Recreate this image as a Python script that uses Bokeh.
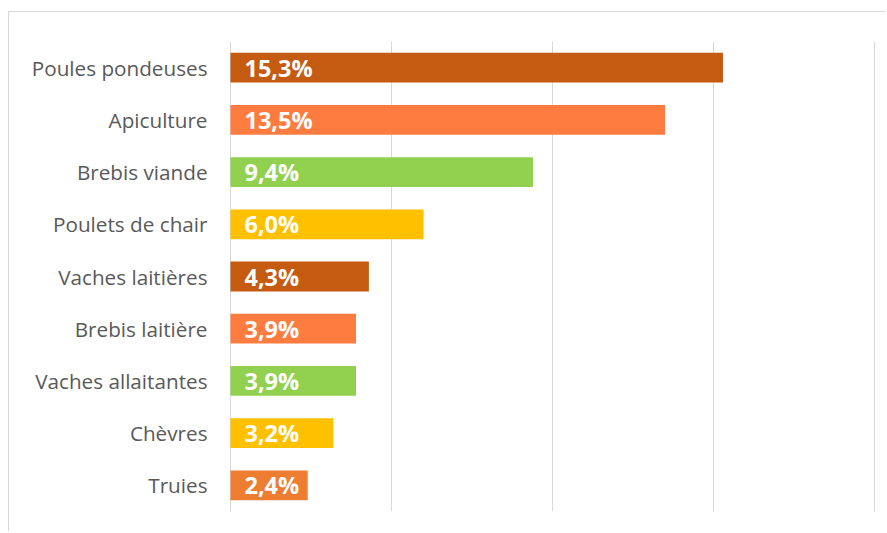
from bokeh.plotting import figure
from bokeh.models import ColumnDataSource, Range1d, FixedTicker
from bokeh.core.properties import value
from bokeh.embed import file_html
from bokeh.resources import INLINE

categories = ["Poules pondeuses", "Apiculture", "Brebis viande", "Poulets de chair",
              "Vaches laitières", "Brebis laitière", "Vaches allaitantes", "Chèvres", "Truies"]
values = [15.3, 13.5, 9.4, 6.0, 4.3, 3.9, 3.9, 3.2, 2.4]
colors = ["#C55A11", "#FF7C40", "#92D050", "#FFC000", "#C55A11", "#FF7C40", "#92D050", "#FFC000", "#ED7D31"]
x_ticks = [0, 5, 10, 15, 20]

labels = [("%.1f%%" % v).replace(".", ",") for v in values]
src = ColumnDataSource(dict(cat=categories, val=values, col=colors, lab=labels,
                            zero=[0] * len(values)))

p = figure(width=877, height=520, y_range=list(reversed(categories)),
           x_range=Range1d(-0.03, 20.1), output_backend="svg", toolbar_location=None,
           min_border_left=220, min_border_right=9, min_border_top=29, min_border_bottom=21)
p.styles = {"border-top": "1px solid #d9d9d9", "border-left": "1px solid #d9d9d9",
            "margin-top": "11px", "margin-left": "8px"}
p.outline_line_color = None
p.background_fill_color = "white"
p.border_fill_color = "white"

p.hbar(y="cat", right="val", left=0, height=0.57, color="col", line_color=None, source=src)
p.text(x="zero", y="cat", text="lab", source=src, x_offset=14, text_baseline="middle",
       text_align="left", text_color="white", text_font=value("Open Sans"),
       text_font_style="bold", text_font_size="23.5px")

p.xaxis.visible = False
p.xgrid.ticker = FixedTicker(ticks=x_ticks)
p.xgrid.grid_line_color = "#d9d9d9"
p.xgrid.grid_line_width = 1
p.ygrid.grid_line_color = None

ax = p.yaxis[0]
ax.axis_line_color = None
ax.major_tick_line_color = None
ax.minor_tick_line_color = None
ax.major_label_standoff = 16
ax.major_label_text_color = "#595959"
ax.major_label_text_font = "Open Sans"
ax.major_label_text_font_size = "20.7px"

open("out.html", "w").write(file_html(p, INLINE))
